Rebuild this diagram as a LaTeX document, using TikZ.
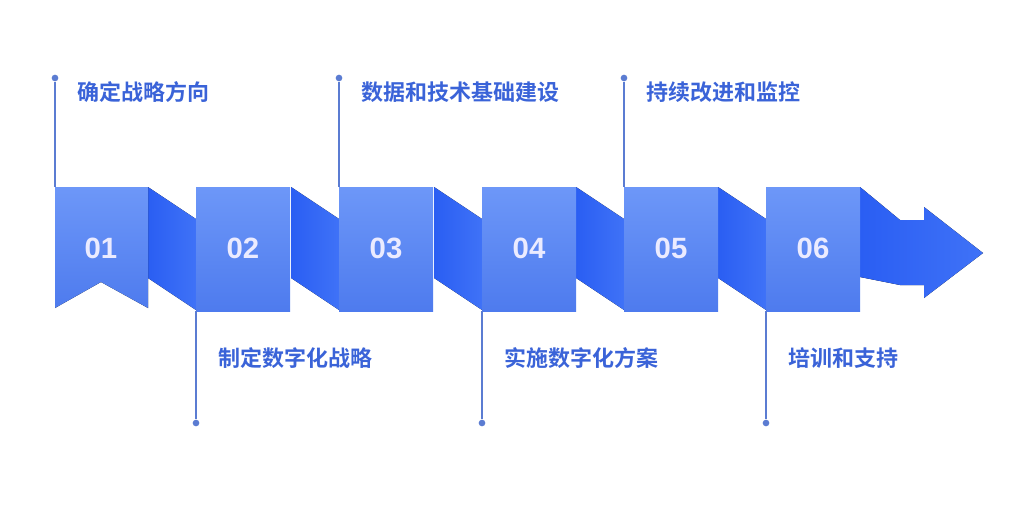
\documentclass[tikz,border=0pt]{standalone}
\usepackage{fontspec}
\setmainfont{Liberation Sans}
\newfontfamily\cjk{Noto Sans CJK SC}[BoldFont={Noto Sans CJK SC Bold}]
\begin{document}
\begin{tikzpicture}[x=0.75pt,y=-0.75pt]
\definecolor{btop}{HTML}{6D97F8}\definecolor{bbot}{HTML}{4E7BEE}
\definecolor{cdark}{HTML}{2A5EF3}\definecolor{clight}{HTML}{3F72F7}
\definecolor{lin}{HTML}{5B7CD2}\definecolor{txt}{HTML}{3A63D8}
\tikzset{blk/.style={top color=btop,bottom color=bbot,draw=none},
 con/.style={left color=cdark,right color=clight,draw=none},
 num/.style={text=white!92!blue,font=\bfseries\fontsize{22}{24}\selectfont},
 lab/.style={text=txt,font=\cjk\bfseries\fontsize{16.5}{18}\selectfont,anchor=west},
 ln/.style={draw=lin,line width=0.9pt},
 dot/.style={circle,fill=lin,inner sep=0pt,minimum size=5pt}}
\useasboundingbox (0,0) rectangle (1020,510);
% connectors
\foreach \a/\b in {148/196,291/339,434/482,576/624,718/766}
  \fill[con] (\a,187) -- (\b,219) -- (\b,310) -- (\a,278) -- cycle;
\fill[con] (860,187) -- (900,220) -- (924,220) -- (924,207) -- (983,253) -- (924,298) -- (924,285) -- (900,285) -- (860,277) -- cycle;
% blocks
\fill[blk] (55,187) -- (148,187) -- (148,308) -- (101,282) -- (55,308) -- cycle;
\node[num] (n1) at (101,248) {01};
\foreach \x/\t [count=\i from 2] in {196/02,339/03,482/04,624/05,766/06}{
  \fill[blk] (\x,187) rectangle (\x+94,311);
  \node[num] (n\i) at (\x+47,248) {\t};
}
% lines and labels
\foreach \x/\t [count=\i] in {55/确定战略方向,339/数据和技术基础建设,624/持续改进和监控}{
  \node[dot] (u\i) at (\x,78) {};
  \coordinate (v\i) at (\x,187);
  \draw[ln] (u\i) -- (v\i);
  \node[lab] (lu\i) at (\x+18,92) {\t};
}
\foreach \x/\t [count=\i] in {196/制定数字化战略,482/实施数字化方案,766/培训和支持}{
  \node[dot] (d\i) at (\x,423) {};
  \coordinate (w\i) at (\x,311);
  \draw[ln] (w\i) -- (d\i);
  \node[lab] (ld\i) at (\x+18,358) {\t};
}
\end{tikzpicture}
\end{document}
